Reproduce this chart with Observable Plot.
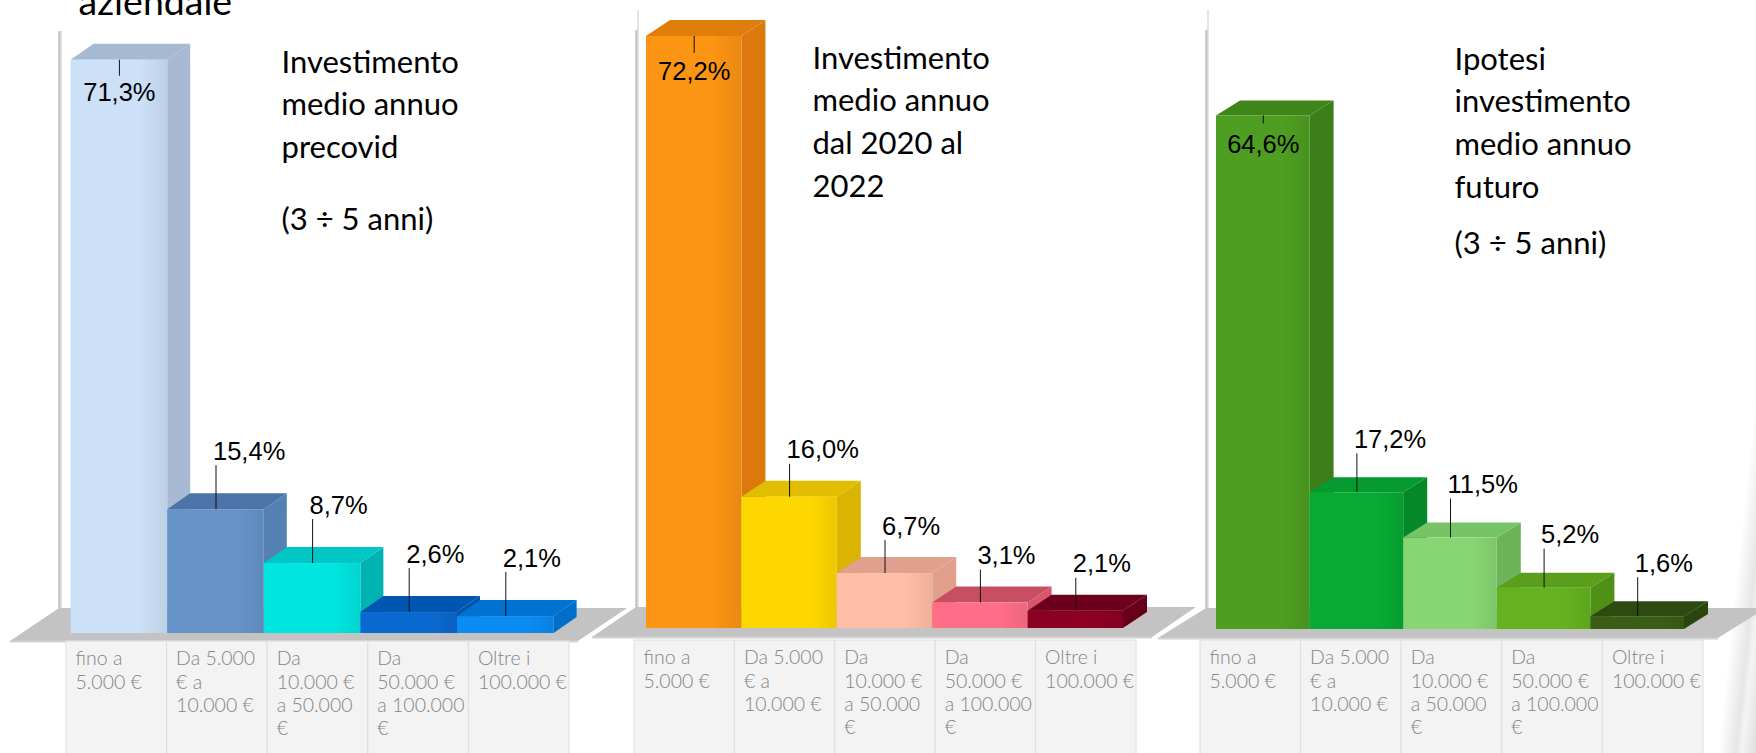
<!DOCTYPE html>
<html><head><meta charset="utf-8">
<script src="https://cdn.jsdelivr.net/npm/d3@7"></script>
<script src="https://cdn.jsdelivr.net/npm/@observablehq/plot@0.6"></script>
<style>
html,body{margin:0;padding:0;background:#fff;}
#chart{position:relative;width:1756px;height:753px;overflow:hidden;background:#fff;}
#chart svg{position:absolute;left:0;top:0;}
#swoosh{position:absolute;left:1738px;top:330px;width:40px;height:460px;transform:skewX(-6deg);
  background:linear-gradient(to right, rgba(255,255,255,0) 0%, #e6e6e6 45%, #f4f4f4 60%, #dcdcdc 100%);}
</style></head><body><div id="chart"><div id="swoosh"></div></div>
<script>
// ---- data ----
const categories = ["fino a\n5.000 €", "Da 5.000\n€ a\n10.000 €", "Da\n10.000 €\na 50.000\n€", "Da\n50.000 €\na 100.000\n€", "Oltre i\n100.000 €"];
const valuesPrecovid = [71.3, 15.4, 8.7, 2.6, 2.1];
const values2020_2022 = [72.2, 16.0, 6.7, 3.1, 2.1];
const valuesFuturo = [64.6, 17.2, 11.5, 5.2, 1.6];
const panelHeadings = ["Investimento\nmedio annuo\nprecovid", "Investimento\nmedio annuo\ndal 2020 al\n2022", "Ipotesi\ninvestimento\nmedio annuo\nfuturo"];
const panelNotes = ["(3 ÷ 5 anni)", "", "(3 ÷ 5 anni)"];
const titleText = "aziendale";

// ---- colours ----
const frontColors = [
  ["#cce0f7", "#6694c9", "#00e5e0", "#0a69d0", "#0a8cf3"],
  ["#fc9414", "#ffd700", "#ffbea6", "#ff6e86", "#8c0024"],
  ["#4e9e22", "#07ab33", "#88d673", "#64b21f", "#3a5e16"]
];
const sideColors = [
  ["#a8bad3", "#5580b3", "#00b3b2", "#0053a8", "#006fc8"],
  ["#dc780c", "#d9b400", "#e0a08c", "#d8566c", "#66001a"],
  ["#3c7e18", "#058828", "#6cb35a", "#4f9016", "#2a460f"]
];
const topColors = [
  ["#a6b9d3", "#4d74a8", "#00c6c6", "#0057b2", "#0072d2"],
  ["#e07e0c", "#e2be00", "#dfa18e", "#c84e62", "#6e001e"],
  ["#3f861a", "#079a30", "#76c465", "#5a9e1c", "#2d4a10"]
];

// ---- layout (pixels) ----
const layouts = [
  {barLeft:70.6, bw:96.6, baseY:633, ky:8.04, depthX:23, depthY:16, wallX:59, wallTop:31, floorFront:641, floorBack:608, floorLeft:10, floorRight:578,
   tableLeft:66, tableRight:569, tableTop:641, annX:281, annB1:72, noteB:229, leader:44, innerLine:16, innerBase:41},
  {barLeft:646, bw:95.4, baseY:628, ky:8.2, depthX:24, depthY:16, wallX:636, wallTop:10, floorFront:637, floorBack:607, floorLeft:592, floorRight:1152,
   tableLeft:634, tableRight:1136, tableTop:640, annX:812, annB1:68, noteB:0, leader:33, innerLine:17, innerBase:44},
  {barLeft:1216, bw:93.6, baseY:629, ky:7.95, depthX:24, depthY:15, wallX:1206, wallTop:10, floorFront:638, floorBack:608, floorLeft:1158, floorRight:1718,
   tableLeft:1200, tableRight:1703, tableTop:640, annX:1454, annB1:69, noteB:253, leader:39, innerLine:8, innerBase:37}
];

const fmt = v => v.toFixed(1).replace(".", ",") + "%";
const labelFont = "'Liberation Sans', Arial, sans-serif";
const textFont = "Lato, 'Open Sans', sans-serif";

function panel(values, k) {
  const L = layouts[k];
  const X = p => (p - L.barLeft) / L.bw;
  const Y = p => (L.baseY - p) / L.ky;
  const ddx = L.depthX / L.bw, ddy = L.depthY / L.ky;
  const bars = values.map((v, i) => ({i, v, label: fmt(v), front: `url(#grad-${k}-${i})`, side: sideColors[k][i], top: topColors[k][i]}));
  const sides = bars.flatMap(b => [
    {id: b.i, x: b.i + 1, y1: 0, y2: b.v, fill: b.side},
    {id: b.i, x: b.i + 1 + ddx, y1: ddy, y2: b.v + ddy, fill: b.side}]);
  const tops = bars.flatMap(b => [
    {id: b.i, y: b.v, x1: b.i, x2: b.i + 1, fill: b.top},
    {id: b.i, y: b.v + ddy, x1: b.i + ddx, x2: b.i + 1 + ddx, fill: b.top}]);
  const floorDx = L.wallX - L.floorLeft;
  const floor = [
    {y: Y(L.floorFront), x1: X(L.floorLeft), x2: X(L.floorRight)},
    {y: Y(L.floorBack), x1: X(L.wallX), x2: X(L.floorRight + floorDx)}];
  const t0 = X(L.tableLeft), cw = (X(L.tableRight) - t0) / 5;
  const cells = categories.map((c, i) => ({label: c, x1: t0 + i * cw, x2: t0 + (i + 1) * cw}));
  const tall = bars.filter(b => b.v > 50), short = bars.filter(b => b.v <= 50);
  const mid = b => b.i + 0.5;
  const annFs = 31, annLH = 1.38;
  const marks = [
    // floor
    Plot.areaX(floor, {y: "y", x1: "x1", x2: "x2", fill: "#c3c3c3"}),
    Plot.ruleY([0], {y: () => Y(L.floorFront), x1: () => X(L.floorLeft), x2: () => X(L.floorRight), stroke: "#d2d2d2", strokeWidth: 2}),
    // wall
    Plot.ruleX([0], {x: () => X(L.wallX), y1: () => Y(L.floorBack), y2: () => Y(L.wallTop + (k ? 20 : 0)), stroke: "#c2c2c2", strokeWidth: 2.5}),
    Plot.ruleX([0], {x: () => X(L.wallX + 1.5), y1: () => Y(L.floorBack), y2: () => Y(L.wallTop), stroke: "#dadada", strokeWidth: 1.5}),
    // bars: sides, tops, fronts
    Plot.areaY(sides, {x: "x", y1: "y1", y2: "y2", z: "id", fill: "fill"}),
    Plot.areaX(tops, {y: "y", x1: "x1", x2: "x2", z: "id", fill: "fill"}),
    Plot.rect(bars, {x1: b => b.i, x2: b => b.i + 1, y1: () => 0, y2: "v", fill: "front"}),
    // category table
    Plot.rect(cells, {x1: "x1", x2: "x2", y1: () => Y(L.tableTop), y2: () => Y(770), fill: "#f3f3f3", stroke: "#dedede", strokeWidth: 1}),
    Plot.text(cells, {x: "x1", y: () => Y(L.tableTop), text: "label", textAnchor: "start", lineAnchor: "top", dx: 9, dy: 7,
      fontSize: 19.5, lineHeight: 1.2, fill: "#858585", fontWeight: 300, fontFamily: textFont}),
    // value labels
    Plot.ruleX(short, {x: mid, y1: "v", y2: b => b.v + L.leader / L.ky, stroke: "#111", strokeWidth: 1}),
    Plot.text(short, {x: mid, y: "v", text: "label", textAnchor: "start", lineAnchor: "bottom", dx: -3, dy: -(L.leader + 6),
      fontSize: 25.5, fontFamily: labelFont, fill: "#000"}),
    Plot.ruleX(tall, {x: mid, y1: "v", y2: b => b.v - L.innerLine / L.ky, stroke: "#111", strokeWidth: 1}),
    Plot.text(tall, {x: mid, y: "v", text: "label", textAnchor: "middle", lineAnchor: "bottom", dy: L.innerBase,
      fontSize: 25.5, fontFamily: labelFont, fill: "#000"}),
    // headings
    Plot.text([panelHeadings[k]], {frameAnchor: "top-left", text: d => d, dx: L.annX, dy: L.annB1 - 0.71 * annLH * annFs,
      lineAnchor: "top", textAnchor: "start", fontSize: annFs, lineHeight: annLH, fontFamily: textFont, fill: "#000"})
  ];
  if (panelNotes[k]) marks.push(Plot.text([panelNotes[k]], {frameAnchor: "top-left", text: d => d, dx: L.annX, dy: L.noteB,
      lineAnchor: "bottom", textAnchor: "start", fontSize: annFs, fontFamily: textFont, fill: "#000"}));
  if (k === 0) marks.push(Plot.text([titleText], {frameAnchor: "top-left", text: d => d, dx: 78, dy: 14,
      lineAnchor: "bottom", textAnchor: "start", fontSize: 37.5, fontFamily: textFont, fill: "#000"}));
  const svg = Plot.plot({
    width: 1756, height: 753, margin: 0,
    x: {type: "linear", domain: [0, 5], range: [L.barLeft, L.barLeft + 5 * L.bw], axis: null},
    y: {type: "linear", domain: [0, 100], range: [L.baseY, L.baseY - 100 * L.ky], axis: null},
    color: {type: "identity"},
    style: {background: "none", overflow: "visible"},
    marks
  });
  // subtle horizontal shading of the bar fronts (as in the 3D original)
  const defs = d3.select(svg).insert("defs", ":first-child");
  frontColors[k].forEach((c, i) => {
    const g = defs.append("linearGradient").attr("id", `grad-${k}-${i}`).attr("x1", 0).attr("x2", 1).attr("y1", 0).attr("y2", 0);
    g.append("stop").attr("offset", 0).attr("stop-color", c);
    g.append("stop").attr("offset", 0.72).attr("stop-color", c);
    g.append("stop").attr("offset", 1).attr("stop-color", d3.color(c).darker(0.22).formatHex());
  });
  return svg;
}

const chart = document.getElementById("chart");
[valuesPrecovid, values2020_2022, valuesFuturo].forEach((vals, k) => chart.appendChild(panel(vals, k)));
</script></body></html>
